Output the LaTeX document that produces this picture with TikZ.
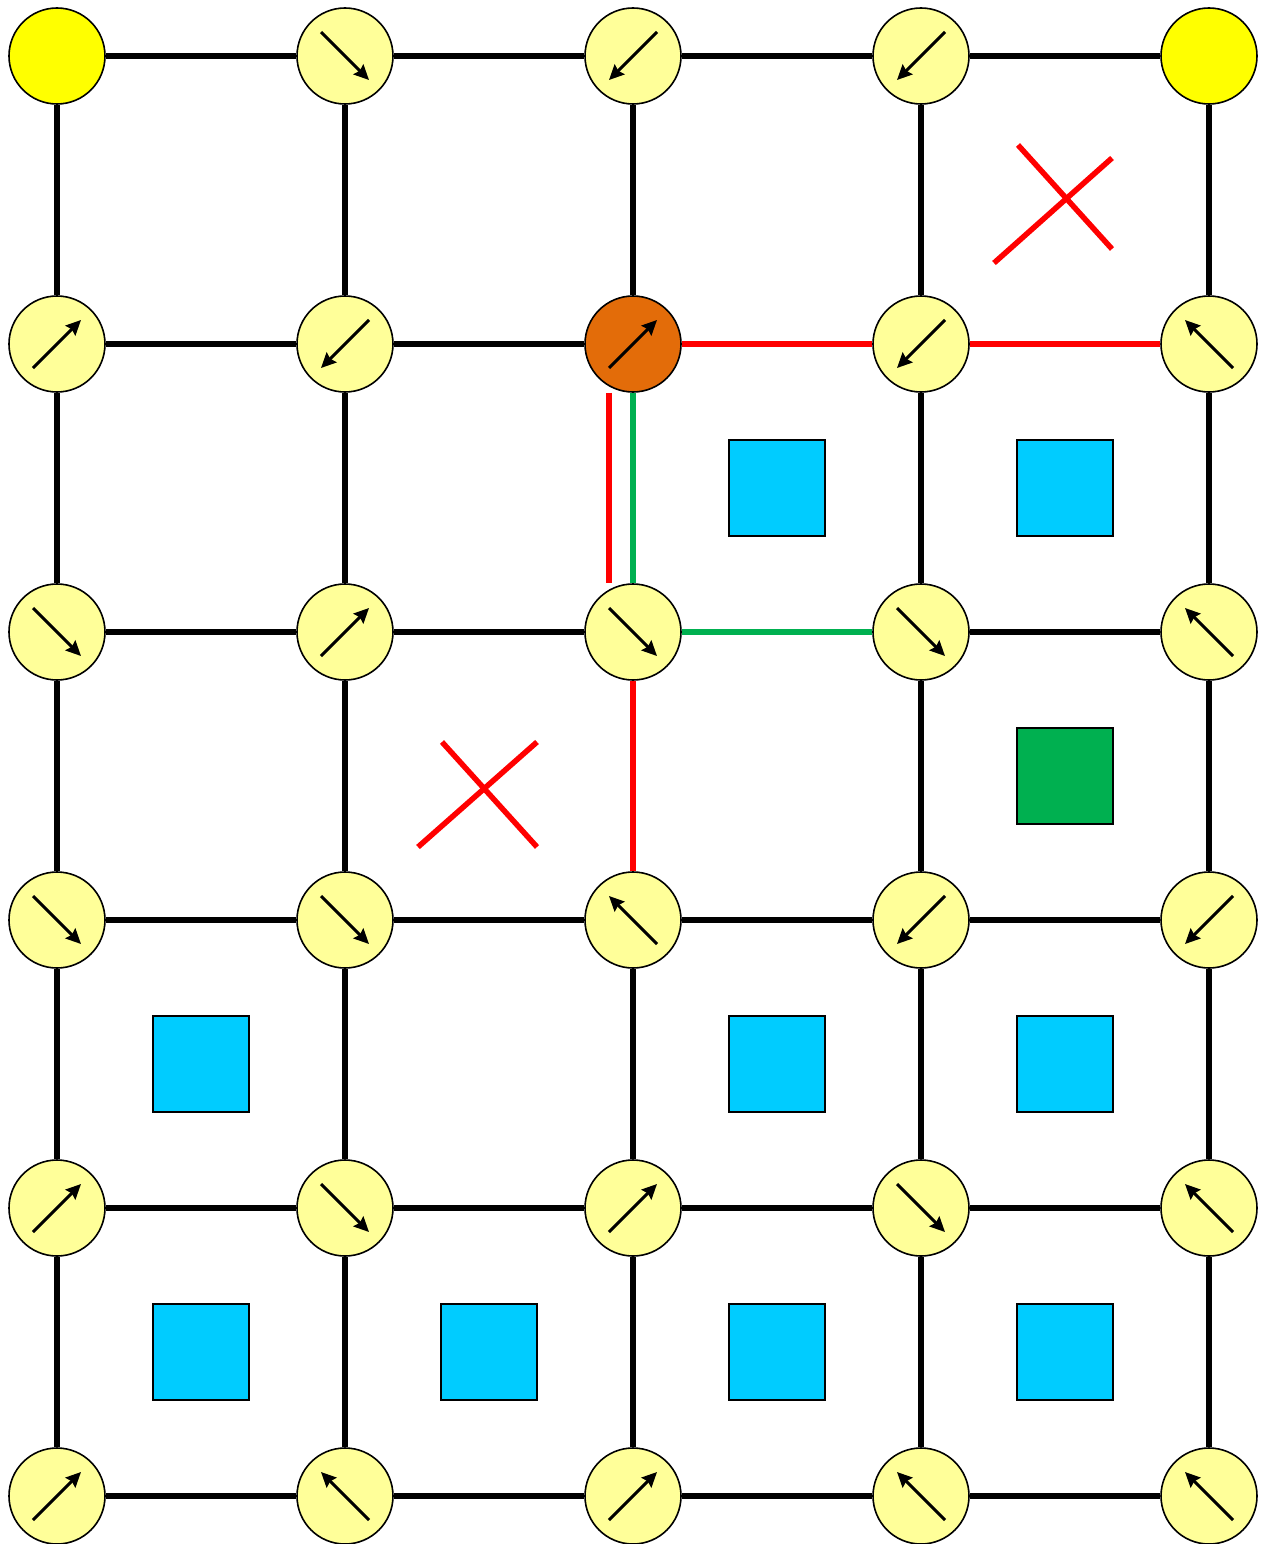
\documentclass[tikz,border=0pt]{standalone}
\usetikzlibrary{arrows.meta}
\definecolor{lyel}{HTML}{FFFF99}
\definecolor{yel}{HTML}{FFFF00}
\definecolor{org}{HTML}{E36C09}
\definecolor{sky}{HTML}{00CCFF}
\definecolor{grn}{HTML}{00B050}
\definecolor{rd}{HTML}{FF0000}
\tikzset{
  site/.style={circle,draw=black,line width=1.6pt,fill=lyel,minimum size=96pt,inner sep=0pt},
  corner/.style={site,fill=yel},
  hot/.style={site,fill=org},
  edge/.style={line width=5.5pt,black},
  redge/.style={line width=6.5pt,rd},
  gedge/.style={line width=6.5pt,grn},
  spin/.style={line width=3pt,-{Stealth[length=15pt,width=14pt,inset=2pt]}},
  plaq/.style={draw=black,line width=1.4pt,fill=sky,minimum size=96pt,inner sep=0pt},
  gplaq/.style={plaq,fill=grn},
  cross/.style={line width=5.5pt,rd}
}
\begin{document}
\begin{tikzpicture}[x=1pt,y=-1pt]
\useasboundingbox (0,0) rectangle (1268,1544);
% sites
\foreach \r in {0,...,5}{
  \foreach \c in {0,...,4}{
    \pgfmathsetmacro{\xx}{57+288*\c}
    \pgfmathsetmacro{\yy}{56+288*\r}
    \ifnum\r=0
      \ifnum\c=0 \node[corner] (n-\r-\c) at (\xx,\yy) {};
      \else\ifnum\c=4 \node[corner] (n-\r-\c) at (\xx,\yy) {};
      \else \node[site] (n-\r-\c) at (\xx,\yy) {};\fi\fi
    \else
      \ifnum\r=1 \ifnum\c=2 \node[hot] (n-\r-\c) at (\xx,\yy) {};
        \else \node[site] (n-\r-\c) at (\xx,\yy) {};\fi
      \else \node[site] (n-\r-\c) at (\xx,\yy) {};\fi
    \fi
  }
}
% horizontal edges
\foreach \r in {0,...,5}{
  \foreach \c [evaluate=\c as \d using int(\c+1)] in {0,...,3}{
    \ifnum\r=1 \ifnum\c>1 \else \draw[edge] (n-\r-\c) -- (n-\r-\d);\fi
    \else\ifnum\r=2 \ifnum\c=2 \else \draw[edge] (n-\r-\c) -- (n-\r-\d);\fi
    \else \draw[edge] (n-\r-\c) -- (n-\r-\d);\fi\fi
  }
}
% vertical edges
\foreach \c in {0,...,4}{
  \foreach \r [evaluate=\r as \s using int(\r+1)] in {0,...,4}{
    \ifnum\c=2 \ifnum\r=1 \else\ifnum\r=2 \else \draw[edge] (n-\r-\c) -- (n-\s-\c);\fi\fi
    \else \draw[edge] (n-\r-\c) -- (n-\s-\c);\fi
  }
}
% coloured edges
\draw[redge] (n-1-2) -- (n-1-3);
\draw[redge] (n-1-3) -- (n-1-4);
\draw[gedge] (n-1-2) -- (n-2-2);
\draw[redge] ([xshift=-24pt]n-1-2.south) -- ([xshift=-24pt]n-2-2.north);
\draw[gedge] (n-2-2) -- (n-2-3);
\draw[redge] (n-2-2) -- (n-3-2);
% spins: r/c/a/b  (start offset a,b ; end offset -a,-b)
\foreach \r/\c/\a/\b in {
  0/1/-24/-24, 0/2/24/-24, 0/3/24/-24,
  1/0/-24/24, 1/1/24/-24, 1/2/-24/24, 1/3/24/-24, 1/4/24/24,
  2/0/-24/-24, 2/1/-24/24, 2/2/-24/-24, 2/3/-24/-24, 2/4/24/24,
  3/0/-24/-24, 3/1/-24/-24, 3/2/24/24, 3/3/24/-24, 3/4/24/-24,
  4/0/-24/24, 4/1/-24/-24, 4/2/-24/24, 4/3/-24/-24, 4/4/24/24,
  5/0/-24/24, 5/1/24/24, 5/2/-24/24, 5/3/24/24, 5/4/24/24}{
  \draw[spin] ([shift={(\a,\b)}]n-\r-\c.center) -- ([shift={(-\a,-\b)}]n-\r-\c.center);
}
% plaquettes
\node[plaq] (p12) at (777,488) {};
\node[plaq] (p13) at (1065,488) {};
\node[gplaq] (p23) at (1065,776) {};
\node[plaq] (p30) at (201,1064) {};
\node[plaq] (p32) at (777,1064) {};
\node[plaq] (p33) at (1065,1064) {};
\node[plaq] (p40) at (201,1352) {};
\node[plaq] (p41) at (489,1352) {};
\node[plaq] (p42) at (777,1352) {};
\node[plaq] (p43) at (1065,1352) {};
% crosses
\draw[cross] (1018,145) -- (1112,249);
\draw[cross] (994,263) -- (1112,158);
\draw[cross] (442,742) -- (537,847);
\draw[cross] (418,847) -- (537,742);
\end{tikzpicture}
\end{document}
